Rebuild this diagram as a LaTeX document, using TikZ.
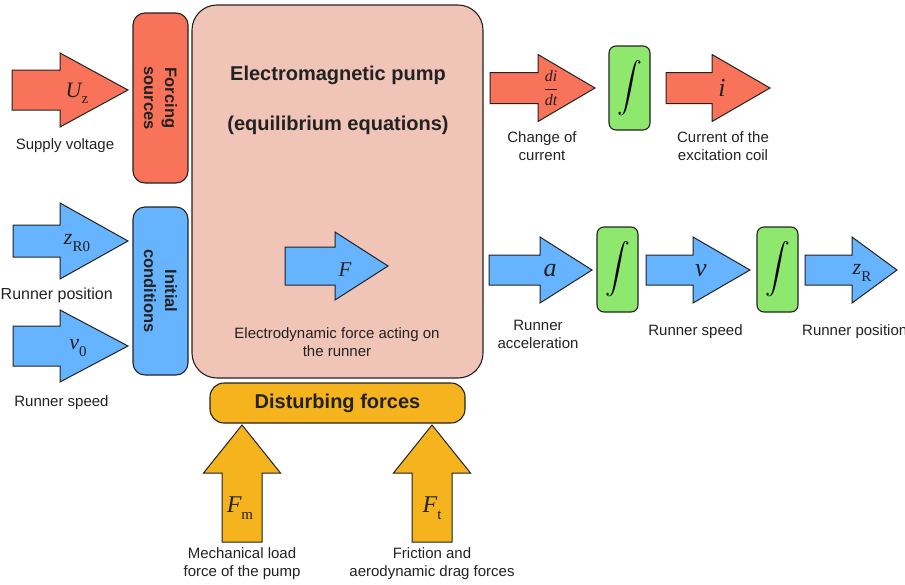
\documentclass[tikz,border=0pt]{standalone}
\usepackage{amsmath}
\usepackage{fontspec}
\newfontfamily\hv{Liberation Sans}
\newfontfamily\tm{Liberation Serif}
\definecolor{cred}{HTML}{F8735A}
\definecolor{cpump}{HTML}{F1C4B8}
\definecolor{cblue}{HTML}{66B3FF}
\definecolor{cgreen}{HTML}{8EE86E}
\definecolor{cyel}{HTML}{F5B41E}
\definecolor{cline}{HTML}{222222}
\tikzset{
  arr/.style={draw=cline, line width=1pt, line join=miter},
  rbox/.style={draw=cline, line width=1.1pt, inner sep=0pt},
  lab/.style={font=\hv\fontsize{15}{18}\selectfont, text=cline, align=center, inner sep=0pt},
  head/.style={font=\hv\bfseries\fontsize{20}{24}\selectfont, text=cline, align=center, inner sep=0pt},
  rot/.style={font=\hv\bfseries\fontsize{16.5}{21}\selectfont, text=cline, align=center, rotate=-90},
  mlab/.style={inner sep=0pt, text=cline, font=\tm\itshape\fontsize{22}{26}\selectfont},
}
% upright subscript for the serif labels
\newcommand\lsub[1]{\raisebox{-0.28em}{\upshape\fontsize{15}{15}\selectfont #1}}
% right arrow: name, colour, x0, x shaft end, x tip, y centre, shaft half, head half
\newcommand\rarr[8]{%
  \draw[arr,fill=#2] (#3,#6-#7) -- (#4,#6-#7) -- (#4,#6-#8) -- (#5,#6) -- (#4,#6+#8) -- (#4,#6+#7) -- (#3,#6+#7) -- cycle;
  \coordinate (#1) at (#5,#6);}
% up arrow: name, colour, x centre, y bottom, y head base, y tip, shaft half, head half
\newcommand\uarr[8]{%
  \draw[arr,fill=#2] (#3-#7,#4) -- (#3-#7,#5) -- (#3-#8,#5) -- (#3,#6) -- (#3+#8,#5) -- (#3+#7,#5) -- (#3+#7,#4) -- cycle;
  \coordinate (#1) at (#3,#6);}
\newcommand\intsym{\fontsize{25}{30}\selectfont$\displaystyle\int$}
\begin{document}
\begin{tikzpicture}[x=1pt,y=-1pt]
\useasboundingbox (0,0) rectangle (905,584);
\clip (0,0) rectangle (905,584);

% ---------- main pump box ----------
\node[rbox, fill=cpump, rounded corners=25pt, minimum width=291pt, minimum height=373pt] (pump) at (337.5,191.5) {};
\node[head] (t1) at (338,75) {Electromagnetic pump};
\node[head] (t2) at (338,125) {(equilibrium equations)};
\rarr{Ftip}{cblue}{285}{335}{388}{266}{19}{34}
\node[mlab, font=\tm\itshape\fontsize{21}{24}\selectfont] (Flab) at (345,270) {F};
\node[lab] (Ftxt) at (337,342) {Electrodynamic force acting on\\the runner};

% ---------- left side boxes ----------
\node[rbox, fill=cred, rounded corners=12pt, minimum width=170pt, minimum height=55pt, rot] (forcing) at (160.5,98) {Forcing\\sources};
\node[rbox, fill=cblue, rounded corners=12pt, minimum width=168pt, minimum height=55pt, rot] (initial) at (160.5,291) {Initial\\conditions};

% ---------- left inputs ----------
\rarr{Uztip}{cred}{12}{60}{128}{90}{20}{37}
\node[mlab] (Uzlab) at (77,93) {U\lsub{z}};
\node[lab] (Uztxt) at (65,146) {Supply voltage};

\rarr{zR0tip}{cblue}{13}{60}{128}{241}{16}{38}
\node[mlab] (zR0lab) at (77,243) {z\lsub{R0}};
\node[lab, anchor=east, font=\hv\fontsize{16}{18}\selectfont] (zR0txt) at (113,295) {Runner position};

\rarr{v0tip}{cblue}{13}{60}{128}{346}{20}{36}
\node[mlab] (v0lab) at (78,348) {ν\lsub{0}};
\node[lab] (v0txt) at (61.5,403) {Runner speed};

% ---------- top right chain ----------
\rarr{didttip}{cred}{490}{538}{595}{88}{15.5}{33.5}
\node[inner sep=0pt, text=cline, font=\fontsize{16}{18}\selectfont] (didtlab) at (551,88) {$\dfrac{\text{\tm\itshape di}}{\text{\tm\itshape dt}}$};
\node[lab] (didttxt) at (542,146) {Change of\\current};
\node[rbox, fill=cgreen, rounded corners=7pt, minimum width=41pt, minimum height=84pt] (int0) at (629.5,88) {\intsym};
\rarr{itip}{cred}{666}{712}{770}{88}{15.5}{33.5}
\node[mlab, font=\tm\itshape\fontsize{26}{30}\selectfont] (ilab) at (722,88) {i};
\node[lab] (itxt) at (723,146) {Current of the\\excitation coil};

% ---------- middle right chain ----------
\rarr{atip}{cblue}{489}{540}{592}{270}{15}{33}
\node[mlab, font=\tm\itshape\fontsize{26}{30}\selectfont] (alab) at (550,271) {a};
\node[lab] (atxt) at (538,334) {Runner\\acceleration};
\node[rbox, fill=cgreen, rounded corners=7pt, minimum width=41pt, minimum height=85pt] (int1) at (617.5,269.5) {\intsym};
\rarr{vtip}{cblue}{646}{693}{750}{270}{15}{33}
\node[mlab, font=\tm\itshape\fontsize{26}{30}\selectfont] (vlab) at (701,271) {ν};
\node[lab] (vtxt) at (695.5,332) {Runner speed};
\node[rbox, fill=cgreen, rounded corners=7pt, minimum width=41pt, minimum height=85pt] (int2) at (777.5,269.5) {\intsym};
\rarr{zRtip}{cblue}{805}{852}{897}{270}{15}{33}
\node[mlab] (zRlab) at (862,273) {z\lsub{R}};
\node[lab, anchor=west] (zRtxt) at (802,332) {Runner position};

% ---------- disturbing forces ----------
\node[rbox, fill=cyel, rounded corners=14pt, minimum width=255pt, minimum height=40pt, head] (dist) at (337.5,403) {Disturbing forces};
\uarr{Fmtip}{cyel}{242}{542}{473}{425}{20}{38.5}
\node[mlab, font=\tm\itshape\fontsize{24}{28}\selectfont] (Fmlab) at (240,508) {F\lsub{m}};
\node[lab] (Fmtxt) at (242,564) {Mechanical load\\force of the pump};
\uarr{Fttip}{cyel}{432}{542}{473}{425}{20}{38.5}
\node[mlab, font=\tm\itshape\fontsize{24}{28}\selectfont] (Ftlab) at (432,508) {F\lsub{t}};
\node[lab] (Fttxt) at (432,564) {Friction and\\aerodynamic drag forces};
\end{tikzpicture}
\end{document}
